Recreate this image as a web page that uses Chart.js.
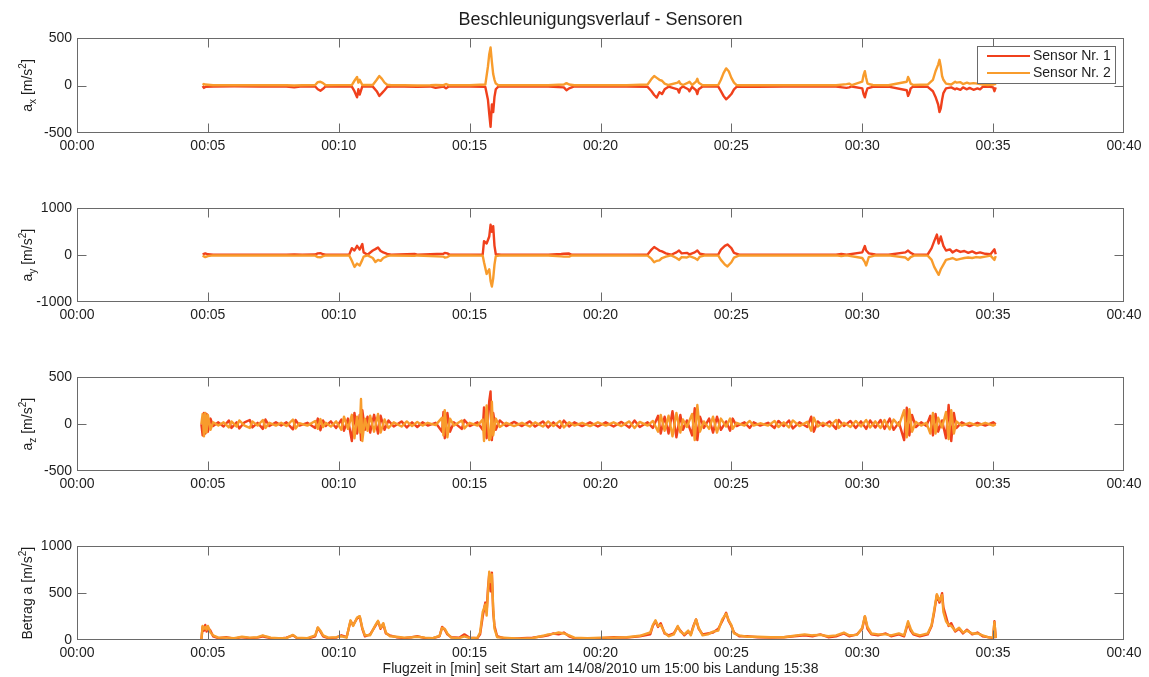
<!DOCTYPE html>
<html>
<head>
<meta charset="utf-8">
<title>Beschleunigungsverlauf - Sensoren</title>
<script src="https://cdn.jsdelivr.net/npm/chart.js@4.4.1/dist/chart.umd.min.js"></script>
<style>
  body { margin: 0; background: #fff; }
  #wrap { position: relative; width: 1149px; height: 677px; overflow: hidden; }
  canvas { position: absolute; left: 0; }
</style>
</head>
<body>
<div id="wrap">
  <canvas id="cAx" width="1149" height="161" style="top:0"></canvas>
  <canvas id="cAy" width="1149" height="135" style="top:195px"></canvas>
  <canvas id="cAz" width="1149" height="135" style="top:364px"></canvas>
  <canvas id="cAbs" width="1149" height="144" style="top:533px"></canvas>
</div>
<script>
/* ---------- data (time in minutes, acceleration in m/s^2) ---------- */
const SENSOR_LABELS = ['Sensor Nr. 1', 'Sensor Nr. 2'];
const X_TICK_LABELS = ['00:00', '00:05', '00:10', '00:15', '00:20', '00:25', '00:30', '00:35', '00:40'];

// a_x
const tAx = [
  4.8,4.85,4.9,5.2,6,7,8,8.3,8.6,9.1,
  9.2,9.3,9.4,9.5,10,10.5,10.6,10.7,10.75,10.8,
  10.9,11.3,11.45,11.55,11.65,11.75,11.85,12,12.5,13,
  13.5,13.7,14,14.1,14.2,15,15.6,15.7,15.75,15.8,
  15.85,15.9,15.95,16,16.1,16.3,17,18,18.6,18.7,
  18.8,19,20,21,21.8,21.95,22.05,22.15,22.25,22.35,
  22.45,22.6,22.95,23,23.05,23.15,23.35,23.4,23.5,23.65,
  23.7,23.75,23.9,24.5,24.6,24.7,24.8,24.9,25,25.1,
  25.2,25.4,26,27,28,29,29.4,29.5,29.6,30,
  30.05,30.1,30.15,30.2,30.4,31,31.7,31.75,31.8,31.85,
  31.95,32.5,32.7,32.8,32.9,32.95,33,33.05,33.1,33.2,
  33.4,33.55,33.6,33.75,33.85,34,34.1,34.25,34.4,34.5,
  34.6,34.8,35,35.05,35.1
];
const axSensor1 = [
  -5,-25,-15,-10,-8,-10,-12,-20,-8,-10,
  -40,-55,-35,-8,-10,-12,-60,-125,-40,-95,
  -10,-12,-60,-110,-80,-50,-15,-10,-12,-15,
  -10,-25,-10,-30,-10,-10,-15,-150,-300,-435,
  -200,-280,-120,-40,-10,-12,-10,-12,-20,-50,
  -30,-10,-10,-12,-15,-60,-100,-127,-70,-90,
  -40,-12,-40,-75,-30,-10,-40,-60,-15,-50,
  -90,-40,-10,-12,-60,-110,-145,-120,-90,-40,
  -15,-10,-15,-12,-10,-12,-25,-20,-10,-30,
  -90,-125,-70,-30,-15,-12,-50,-110,-80,-30,
  -10,-15,-60,-120,-200,-280,-240,-150,-80,-30,
  -20,-40,-30,-45,-20,-40,-25,-45,-30,-40,
  -15,-10,-20,-60,-20
];
const axSensor2 = [
  5,15,10,3,2,3,2,0,3,5,
  35,40,25,3,4,5,50,90,30,60,
  5,5,60,100,70,30,8,3,2,0,
  2,5,3,15,3,3,10,200,330,400,
  250,120,60,20,3,3,2,3,10,25,
  10,3,3,2,10,70,100,80,60,50,
  20,5,30,45,20,5,30,40,5,40,
  70,30,3,5,60,130,180,150,80,30,
  5,3,3,2,3,3,15,20,3,40,
  110,150,80,20,5,3,40,90,60,20,
  5,10,60,150,220,270,200,100,60,20,
  10,40,30,35,15,30,20,25,20,15,
  10,5,10,20,5
];

// a_y
const tAy = [
  4.8,4.9,5,5.2,6,7,8,8.3,8.6,9.1,
  9.2,9.3,9.4,9.5,10,10.4,10.5,10.6,10.7,10.8,
  10.9,10.95,11.1,11.3,11.4,11.5,11.6,11.7,11.85,12,
  12.9,13,14,14.05,14.15,14.25,15,15.5,15.55,15.65,
  15.75,15.8,15.85,15.9,15.95,16,16.2,17,18,18.5,
  18.6,18.8,18.9,20,21,21.8,21.95,22.05,22.15,22.25,
  22.35,22.5,22.7,22.9,23,23.1,23.3,23.4,23.6,23.7,
  23.8,24,24.5,24.6,24.75,24.85,25,25.1,25.3,26,
  27,28,29,29.2,29.4,30,30.1,30.15,30.25,30.5,
  31,31.65,31.75,31.85,32,32.5,32.65,32.75,32.85,32.92,
  33,33.1,33.2,33.35,33.45,33.6,33.75,33.9,34.05,34.2,
  34.35,34.5,34.7,34.9,35.05,35.1
];
const aySensor1 = [
  20,40,20,10,10,12,10,15,10,15,
  40,45,20,10,10,12,150,100,200,120,
  240,60,10,100,130,165,90,60,30,10,
  25,10,30,50,40,10,10,15,300,250,
  400,650,500,620,200,20,10,10,10,25,
  30,35,10,10,10,15,120,175,140,100,
  80,40,10,60,100,40,50,20,60,100,
  30,10,15,120,200,230,150,50,10,10,
  12,10,10,25,10,60,195,100,40,15,
  10,60,100,50,10,15,150,300,440,250,
  400,200,100,125,60,110,70,90,50,80,
  40,60,30,20,125,20
];
const aySensor2 = [
  -10,-40,-20,-5,-5,-5,-8,-10,-5,-10,
  -40,-45,-20,-5,-5,-5,-120,-250,-180,-220,
  -100,-30,-5,-60,-145,-100,-120,-60,-20,-5,
  -15,-5,-30,-50,-40,-5,-5,-10,-150,-400,
  -300,-550,-670,-500,-200,-20,-5,-5,-5,-25,
  -30,-30,-5,-5,-8,-10,-80,-150,-120,-110,
  -60,-30,-5,-60,-100,-40,-50,-20,-60,-100,
  -30,-5,-10,-100,-200,-240,-150,-50,-5,-5,
  -5,-8,-5,-20,-5,-60,-150,-220,-40,-5,
  -5,-50,-100,-40,-5,-10,-100,-250,-350,-420,
  -300,-200,-100,-80,-60,-100,-80,-60,-50,-60,
  -40,-50,-30,-10,-100,-20
];

// a_z
const tAz = [
  4.75,4.8,4.85,4.9,4.95,5,5.1,5.2,5.4,5.6,
  5.8,5.9,6.1,6.2,6.4,6.6,6.7,6.9,7.1,7.2,
  7.35,7.6,7.8,8,8.25,8.35,8.5,8.8,9.1,9.2,
  9.3,9.4,9.5,9.7,9.9,10.1,10.2,10.35,10.5,10.6,
  10.7,10.8,10.85,10.9,11,11.1,11.2,11.35,11.5,11.6,
  11.75,11.9,12.1,12.4,12.6,12.8,13,13.2,13.4,13.7,
  13.95,14,14.05,14.15,14.25,14.4,14.7,14.8,15,15.3,
  15.5,15.55,15.65,15.75,15.8,15.85,15.9,16,16.15,16.4,
  16.7,17,17.3,17.5,17.8,18,18.2,18.45,18.6,18.8,
  19,19.3,19.6,19.9,20.2,20.5,20.8,21.1,21.3,21.5,
  21.8,22,22.2,22.3,22.45,22.6,22.75,22.9,23.05,23.15,
  23.3,23.5,23.6,23.7,23.8,23.95,24.15,24.3,24.45,24.6,
  24.8,24.95,25.05,25.2,25.5,25.7,25.85,26.1,26.4,26.65,
  26.8,27,27.2,27.35,27.6,27.9,28.05,28.15,28.3,28.5,
  28.75,29,29.1,29.3,29.55,29.75,29.95,30.15,30.3,30.5,
  30.7,30.85,31.05,31.2,31.4,31.6,31.7,31.8,31.9,32.05,
  32.25,32.45,32.6,32.7,32.8,32.9,33.05,33.2,33.3,33.4,
  33.5,33.6,33.8,34.1,34.4,34.7,35,35.1
];
const azSensor1 = [
  0,-120,120,-100,110,-80,60,-20,20,-25,
  40,-40,20,-45,20,45,-35,15,-50,50,
  -20,20,-15,20,-55,45,-15,15,-40,60,
  -65,40,-20,30,-40,50,-70,60,-180,120,
  -100,100,-170,150,-60,80,-90,100,-100,90,
  -60,40,-25,30,-35,20,-30,20,-15,15,
  -80,130,-150,120,-80,20,-50,45,-20,20,
  -60,180,-150,250,350,-170,120,-60,40,-20,
  25,-20,30,-25,30,-35,20,-40,40,-25,
  20,-20,20,-25,20,-25,25,-35,40,-30,
  20,-40,90,-100,80,-100,140,-140,100,-60,
  40,-120,170,-170,80,-40,60,-90,80,-60,
  30,-70,60,-20,20,-40,20,-15,15,-40,
  35,-20,40,-45,20,-30,80,-80,30,-20,
  30,-50,45,-20,35,-40,30,-50,40,-35,
  45,-50,60,-60,20,-170,175,-120,100,-30,
  20,-20,90,-120,110,-80,40,-150,205,-180,
  120,-40,20,-20,15,-15,20,0
];
const azSensor2 = [
  0,110,-130,120,-90,100,-60,20,-15,20,
  -35,30,-25,40,-15,-40,30,-15,45,-40,
  15,-15,15,-20,50,-45,10,-15,35,-50,
  55,-30,15,-25,30,-60,80,-50,100,-150,
  80,-90,270,-180,60,-70,90,-80,110,-90,
  50,-40,20,-25,30,-20,25,-15,15,-10,
  70,-120,150,-140,60,-15,40,-45,15,-15,
  50,-180,200,-170,-150,240,-120,60,-30,15,
  -20,15,-25,20,-25,30,-20,35,-35,20,
  -15,15,-20,20,-15,20,-20,30,-40,25,
  -15,35,-80,100,-70,90,-130,120,-90,50,
  -30,110,-170,205,-80,30,-50,80,-90,60,
  -25,60,-50,15,-15,35,-15,10,-15,35,
  -30,20,-35,40,-20,25,-70,70,-25,15,
  -25,45,-40,15,-30,35,-25,45,-35,30,
  -40,45,-55,50,-15,150,-140,160,-80,25,
  -15,15,-100,120,-100,70,-35,130,-160,150,
  -100,30,-15,15,-15,15,-15,0
];

// Betrag a
const tAbs = [
  4.75,4.8,4.85,4.9,4.95,5,5.1,5.2,5.4,5.7,
  6,6.3,6.6,6.9,7.1,7.2,7.4,7.7,8,8.25,
  8.4,8.8,9.1,9.2,9.3,9.4,9.6,9.9,10.1,10.3,
  10.45,10.55,10.7,10.8,10.9,11,11.2,11.4,11.5,11.6,
  11.7,11.8,11.95,12.2,12.5,12.8,13,13.3,13.6,13.85,
  13.95,14.05,14.15,14.3,14.6,14.8,15,15.3,15.4,15.5,
  15.6,15.65,15.7,15.75,15.8,15.85,15.9,15.95,16.05,16.3,
  16.6,17,17.4,17.8,18,18.2,18.4,18.6,18.8,19,
  19.5,20,20.5,21,21.5,21.9,22,22.1,22.2,22.3,
  22.45,22.6,22.8,22.95,23.05,23.2,23.35,23.45,23.55,23.65,
  23.75,23.9,24.1,24.3,24.5,24.65,24.8,24.9,25,25.1,
  25.3,25.6,26,26.5,27,27.4,27.8,28.1,28.4,28.7,
  29,29.3,29.5,29.8,30,30.1,30.2,30.35,30.6,30.9,
  31.1,31.4,31.6,31.75,31.85,31.95,32.2,32.5,32.65,32.75,
  32.85,32.95,33.05,33.1,33.2,33.3,33.4,33.55,33.7,33.85,
  34,34.2,34.4,34.6,34.8,35,35.05,35.1
];
const absSensor1 = [
  0,140,100,160,90,130,100,40,20,30,
  15,30,20,25,40,30,20,15,25,50,
  20,15,40,130,90,40,20,25,50,30,
  200,160,230,250,120,40,60,150,200,120,
  170,70,50,30,20,30,40,20,20,40,
  140,110,60,30,25,60,25,20,60,250,
  400,300,550,700,520,720,300,150,40,20,
  15,20,25,40,50,70,60,80,40,20,
  15,20,30,25,40,60,150,200,140,180,
  70,50,70,140,100,50,90,60,150,220,
  120,60,70,80,120,200,290,200,150,80,
  40,40,30,25,30,40,50,40,60,30,
  40,70,40,60,120,250,120,60,50,70,
  40,60,40,180,100,60,40,60,150,300,
  480,400,500,350,250,150,180,90,120,70,
  110,60,80,40,30,20,200,20
];
const absSensor2 = [
  0,150,120,140,110,150,80,50,25,25,
  20,35,25,30,50,40,25,20,20,55,
  25,20,50,135,100,50,25,30,40,25,
  210,150,240,255,130,50,50,160,205,130,
  180,80,40,35,25,30,35,25,20,45,
  130,120,70,25,20,40,20,25,80,300,
  380,260,500,730,620,700,350,120,30,25,
  20,15,20,45,60,65,80,70,50,25,
  20,25,25,30,45,80,160,210,150,160,
  80,40,60,150,90,60,100,50,140,220,
  130,50,60,90,100,220,280,210,160,70,
  50,35,35,30,30,45,60,50,55,40,
  50,80,50,55,130,255,140,70,60,60,
  50,70,50,200,120,70,50,70,160,320,
  490,420,480,300,200,160,150,100,130,80,
  100,70,70,50,30,25,190,20
];

/* ---------- look ---------- */
const FONT = '"Liberation Sans", Arial, Helvetica, sans-serif';
const TEXT_COLOR = '#1e1e1e';
const AXIS_COLOR = '#6a6a6a';
const SENSOR_COLORS = ['#f0401c', '#f89c2c'];
const TICK_LEN = 9;

Chart.defaults.font.family = FONT;
Chart.defaults.font.size = 14;
Chart.defaults.color = TEXT_COLOR;

function drawRichVertical(ctx, parts, cx, cy) {
  // rotated label with sub/superscripts (MATLAB style a_x [m/s^2])
  const fontFor = p => (p.sub || p.sup ? '10px ' : '14px ') + FONT;
  ctx.save();
  ctx.translate(cx, cy);
  ctx.rotate(-Math.PI / 2);
  ctx.fillStyle = TEXT_COLOR;
  ctx.textBaseline = 'alphabetic';
  let w = 0;
  parts.forEach(p => { ctx.font = fontFor(p); p.w = ctx.measureText(p.t).width; w += p.w; });
  let x = -w / 2;
  parts.forEach(p => {
    ctx.font = fontFor(p);
    ctx.fillText(p.t, x, 5 + (p.sub ? 4 : p.sup ? -6 : 0));
    x += p.w;
  });
  ctx.restore();
}

const matlabBox = {
  id: 'matlabBox',
  afterDatasetsDraw(chart, args, o) {
    const { ctx, chartArea: a, scales: { x, y } } = chart;
    const L = Math.round(a.left) + 0.5, R = Math.round(a.right) - 0.5;
    const T = Math.round(a.top) + 0.5, B = Math.round(a.bottom) - 0.5;
    const clamp = (v, lo, hi) => Math.min(hi, Math.max(lo, v));
    ctx.save();
    ctx.strokeStyle = AXIS_COLOR;
    ctx.lineWidth = 1;
    ctx.strokeRect(L, T, R - L, B - T);
    ctx.beginPath();
    x.ticks.forEach(t => {
      const px = clamp(Math.round(x.getPixelForValue(t.value)) + 0.5, L, R);
      ctx.moveTo(px, T); ctx.lineTo(px, T + TICK_LEN);
      ctx.moveTo(px, B); ctx.lineTo(px, B - TICK_LEN);
    });
    y.ticks.forEach(t => {
      const py = clamp(Math.round(y.getPixelForValue(t.value)) + 0.5, T, B);
      ctx.moveTo(L, py); ctx.lineTo(L + TICK_LEN, py);
      ctx.moveTo(R, py); ctx.lineTo(R - TICK_LEN, py);
    });
    ctx.stroke();

    drawRichVertical(ctx, o.yLabel, 27, (a.top + a.bottom) / 2);

    if (o.title) {
      ctx.fillStyle = TEXT_COLOR;
      ctx.font = '18px ' + FONT;
      ctx.textAlign = 'center';
      ctx.textBaseline = 'middle';
      ctx.fillText(o.title, (a.left + a.right) / 2, 20);
    }

    if (o.legend) {
      const bx = a.right - 147, by = a.top + 8, bw = 138, bh = 37;
      ctx.fillStyle = '#fff';
      ctx.fillRect(bx, by, bw, bh);
      ctx.strokeStyle = AXIS_COLOR;
      ctx.strokeRect(bx + 0.5, by + 0.5, bw, bh);
      ctx.font = '14px ' + FONT;
      ctx.textAlign = 'left';
      ctx.textBaseline = 'middle';
      SENSOR_LABELS.forEach((lab, i) => {
        const ly = by + 10 + i * 17;
        ctx.strokeStyle = SENSOR_COLORS[i];
        ctx.lineWidth = 2;
        ctx.beginPath();
        ctx.moveTo(bx + 10, ly); ctx.lineTo(bx + 53, ly);
        ctx.stroke();
        ctx.fillStyle = TEXT_COLOR;
        ctx.fillText(lab, bx + 56, ly);
      });
    }
    ctx.restore();
  }
};

function buildChart(id, t, s1, s2, cfg) {
  const ds = (vals, i) => ({
    label: SENSOR_LABELS[i],
    data: t.map((x, k) => ({ x, y: vals[k] })),
    borderColor: SENSOR_COLORS[i],
    borderWidth: 2.4,
    borderJoinStyle: 'round',
    pointRadius: 0,
    tension: 0,
    order: i === 0 ? 1 : 0   // sensor 2 drawn on top, like the MATLAB plot
  });
  return new Chart(document.getElementById(id), {
    type: 'line',
    data: { datasets: [ds(s1, 0), ds(s2, 1)] },
    options: {
      responsive: false,
      animation: false,
      devicePixelRatio: 1,
      layout: { padding: { top: cfg.top, right: 25, bottom: 0, left: 0 } },
      plugins: {
        legend: { display: false },
        tooltip: { enabled: false },
        matlabBox: { yLabel: cfg.yLabel, title: cfg.title, legend: cfg.legend }
      },
      scales: {
        x: {
          type: 'linear',
          min: 0, max: 40,
          grid: { display: false, drawTicks: false },
          border: { display: false },
          ticks: { stepSize: 5, padding: 5, maxRotation: 0, autoSkip: false,
                   callback: v => X_TICK_LABELS[v / 5] },
          title: cfg.xTitle
            ? { display: true, text: cfg.xTitle, font: { size: 14, lineHeight: 1 }, padding: { top: 0, bottom: 1 } }
            : { display: false },
          afterFit: s => { s.height = cfg.xHeight; }
        },
        y: {
          min: cfg.yMin, max: cfg.yMax,
          grid: { display: false, drawTicks: false },
          border: { display: false },
          ticks: { stepSize: cfg.yStep, padding: 5, callback: v => String(v) },
          afterFit: s => { s.width = 77; }
        }
      }
    },
    plugins: [matlabBox]
  });
}

buildChart('cAx', tAx, axSensor1, axSensor2, {
  top: 38, xHeight: 28, yMin: -500, yMax: 500, yStep: 500,
  title: 'Beschleunigungsverlauf - Sensoren', legend: true,
  yLabel: [{ t: 'a' }, { t: 'x', sub: true }, { t: ' [m/s' }, { t: '2', sup: true }, { t: ']' }]
});
buildChart('cAy', tAy, aySensor1, aySensor2, {
  top: 12, xHeight: 28, yMin: -1000, yMax: 1000, yStep: 1000,
  yLabel: [{ t: 'a' }, { t: 'y', sub: true }, { t: ' [m/s' }, { t: '2', sup: true }, { t: ']' }]
});
buildChart('cAz', tAz, azSensor1, azSensor2, {
  top: 12, xHeight: 28, yMin: -500, yMax: 500, yStep: 500,
  yLabel: [{ t: 'a' }, { t: 'z', sub: true }, { t: ' [m/s' }, { t: '2', sup: true }, { t: ']' }]
});
buildChart('cAbs', tAbs, absSensor1, absSensor2, {
  top: 12, xHeight: 37, yMin: 0, yMax: 1000, yStep: 500,
  xTitle: 'Flugzeit in [min] seit Start am 14/08/2010 um 15:00 bis Landung 15:38',
  yLabel: [{ t: 'Betrag a [m/s' }, { t: '2', sup: true }, { t: ']' }]
});
</script>
</body>
</html>
